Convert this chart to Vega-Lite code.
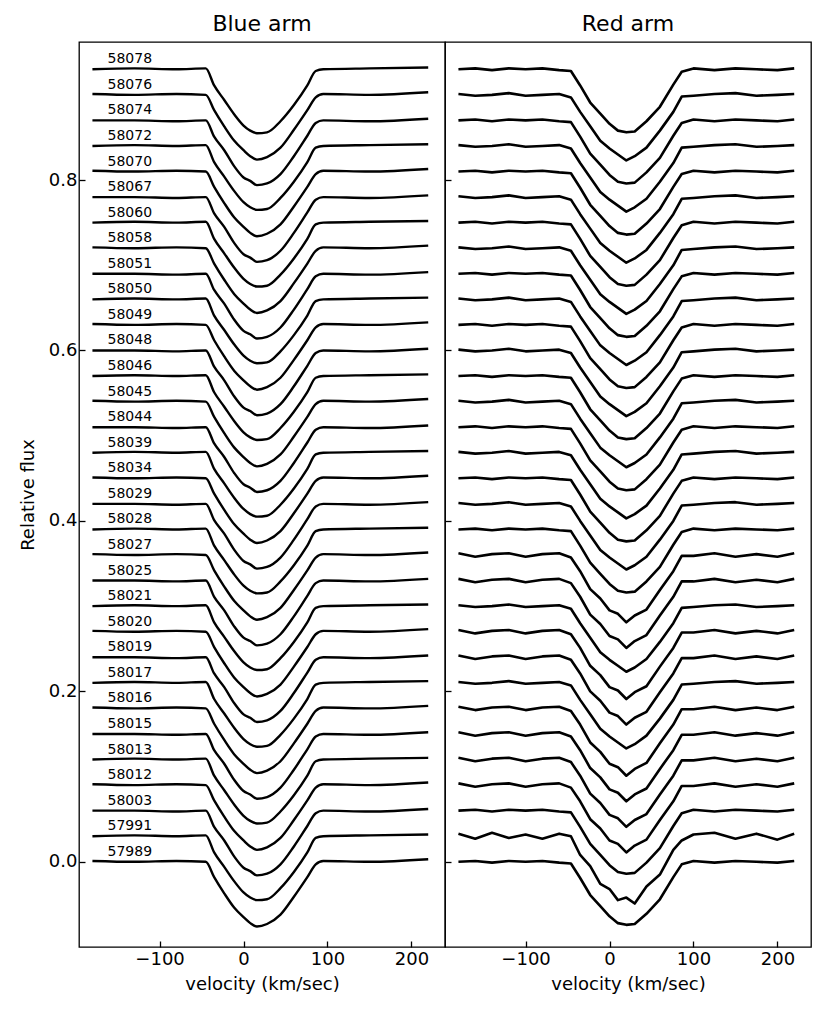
{
"$schema": "https://vega.github.io/schema/vega-lite/v6.json",
"padding": {"left": 18, "top": 12, "right": 5, "bottom": 5},
"bounds": "flush",
"spacing": 0,
"config": {
 "font": "DejaVu Sans",
 "view": {"stroke": "black", "strokeWidth": 1.3},
 "axis": {"grid": false, "domain": false, "tickSize": -6, "tickColor": "black", "tickWidth": 1.3, "labelColor": "black", "labelFontSize": 18, "labelFont": "DejaVu Sans", "titleFont": "DejaVu Sans", "titleFontSize": 18, "titleFontWeight": "normal", "titleColor": "black", "labelPadding": 9},
 "title": {"fontSize": 22, "fontWeight": "normal", "font": "DejaVu Sans", "color": "black", "offset": 6},
 "concat": {"spacing": 0}
},
"datasets": {
"labels": [
{"mjd":"58078","base":0.93},{"mjd":"58076","base":0.90},{"mjd":"58074","base":0.87},{"mjd":"58072","base":0.84},{"mjd":"58070","base":0.81},{"mjd":"58067","base":0.78},{"mjd":"58060","base":0.75},{"mjd":"58058","base":0.72},{"mjd":"58051","base":0.69},{"mjd":"58050","base":0.66},{"mjd":"58049","base":0.63},{"mjd":"58048","base":0.60},{"mjd":"58046","base":0.57},{"mjd":"58045","base":0.54},{"mjd":"58044","base":0.51},{"mjd":"58039","base":0.48},{"mjd":"58034","base":0.45},{"mjd":"58029","base":0.42},{"mjd":"58028","base":0.39},{"mjd":"58027","base":0.36},{"mjd":"58025","base":0.33},{"mjd":"58021","base":0.30},{"mjd":"58020","base":0.27},{"mjd":"58019","base":0.24},{"mjd":"58017","base":0.21},{"mjd":"58016","base":0.18},{"mjd":"58015","base":0.15},{"mjd":"58013","base":0.12},{"mjd":"58012","base":0.09},{"mjd":"58003","base":0.06},{"mjd":"57991","base":0.03},{"mjd":"57989","base":0.00}
],
"blue": [
{"mjd":58078,"v":-180,"flux":0.930},{"mjd":58078,"v":-130,"flux":0.931},{"mjd":58078,"v":-80,"flux":0.930},{"mjd":58078,"v":-45,"flux":0.931},{"mjd":58078,"v":-35,"flux":0.911},{"mjd":58078,"v":-23,"flux":0.894},{"mjd":58078,"v":-11,"flux":0.877},{"mjd":58078,"v":0,"flux":0.864},{"mjd":58078,"v":8,"flux":0.858},{"mjd":58078,"v":16,"flux":0.855},{"mjd":58078,"v":28,"flux":0.856},{"mjd":58078,"v":44,"flux":0.869},{"mjd":58078,"v":60,"flux":0.888},{"mjd":58078,"v":76,"flux":0.911},{"mjd":58078,"v":86,"flux":0.928},{"mjd":58078,"v":95,"flux":0.930},{"mjd":58078,"v":150,"flux":0.931},{"mjd":58078,"v":220,"flux":0.932},
{"mjd":58076,"v":-180,"flux":0.901},{"mjd":58076,"v":-130,"flux":0.900},{"mjd":58076,"v":-80,"flux":0.901},{"mjd":58076,"v":-45,"flux":0.900},{"mjd":58076,"v":-35,"flux":0.882},{"mjd":58076,"v":-23,"flux":0.863},{"mjd":58076,"v":-11,"flux":0.846},{"mjd":58076,"v":0,"flux":0.835},{"mjd":58076,"v":8,"flux":0.828},{"mjd":58076,"v":16,"flux":0.824},{"mjd":58076,"v":28,"flux":0.827},{"mjd":58076,"v":44,"flux":0.838},{"mjd":58076,"v":60,"flux":0.859},{"mjd":58076,"v":76,"flux":0.882},{"mjd":58076,"v":86,"flux":0.897},{"mjd":58076,"v":95,"flux":0.901},{"mjd":58076,"v":150,"flux":0.900},{"mjd":58076,"v":220,"flux":0.903},
{"mjd":58074,"v":-180,"flux":0.870},{"mjd":58074,"v":-130,"flux":0.870},{"mjd":58074,"v":-80,"flux":0.869},{"mjd":58074,"v":-45,"flux":0.870},{"mjd":58074,"v":-35,"flux":0.851},{"mjd":58074,"v":-23,"flux":0.835},{"mjd":58074,"v":-11,"flux":0.816},{"mjd":58074,"v":0,"flux":0.803},{"mjd":58074,"v":8,"flux":0.799},{"mjd":58074,"v":16,"flux":0.794},{"mjd":58074,"v":28,"flux":0.796},{"mjd":58074,"v":44,"flux":0.807},{"mjd":58074,"v":60,"flux":0.828},{"mjd":58074,"v":76,"flux":0.852},{"mjd":58074,"v":86,"flux":0.867},{"mjd":58074,"v":95,"flux":0.870},{"mjd":58074,"v":150,"flux":0.869},{"mjd":58074,"v":220,"flux":0.872},
{"mjd":58072,"v":-180,"flux":0.840},{"mjd":58072,"v":-130,"flux":0.841},{"mjd":58072,"v":-80,"flux":0.840},{"mjd":58072,"v":-45,"flux":0.841},{"mjd":58072,"v":-35,"flux":0.821},{"mjd":58072,"v":-23,"flux":0.804},{"mjd":58072,"v":-11,"flux":0.787},{"mjd":58072,"v":0,"flux":0.774},{"mjd":58072,"v":8,"flux":0.768},{"mjd":58072,"v":16,"flux":0.765},{"mjd":58072,"v":28,"flux":0.766},{"mjd":58072,"v":44,"flux":0.779},{"mjd":58072,"v":60,"flux":0.798},{"mjd":58072,"v":76,"flux":0.821},{"mjd":58072,"v":86,"flux":0.838},{"mjd":58072,"v":95,"flux":0.840},{"mjd":58072,"v":150,"flux":0.841},{"mjd":58072,"v":220,"flux":0.842},
{"mjd":58070,"v":-180,"flux":0.811},{"mjd":58070,"v":-130,"flux":0.810},{"mjd":58070,"v":-80,"flux":0.811},{"mjd":58070,"v":-45,"flux":0.810},{"mjd":58070,"v":-35,"flux":0.792},{"mjd":58070,"v":-23,"flux":0.773},{"mjd":58070,"v":-11,"flux":0.756},{"mjd":58070,"v":0,"flux":0.745},{"mjd":58070,"v":8,"flux":0.738},{"mjd":58070,"v":16,"flux":0.734},{"mjd":58070,"v":28,"flux":0.737},{"mjd":58070,"v":44,"flux":0.748},{"mjd":58070,"v":60,"flux":0.769},{"mjd":58070,"v":76,"flux":0.792},{"mjd":58070,"v":86,"flux":0.807},{"mjd":58070,"v":95,"flux":0.811},{"mjd":58070,"v":150,"flux":0.810},{"mjd":58070,"v":220,"flux":0.813},
{"mjd":58067,"v":-180,"flux":0.780},{"mjd":58067,"v":-130,"flux":0.780},{"mjd":58067,"v":-80,"flux":0.779},{"mjd":58067,"v":-45,"flux":0.780},{"mjd":58067,"v":-35,"flux":0.761},{"mjd":58067,"v":-23,"flux":0.745},{"mjd":58067,"v":-11,"flux":0.726},{"mjd":58067,"v":0,"flux":0.713},{"mjd":58067,"v":8,"flux":0.709},{"mjd":58067,"v":16,"flux":0.704},{"mjd":58067,"v":28,"flux":0.706},{"mjd":58067,"v":44,"flux":0.717},{"mjd":58067,"v":60,"flux":0.738},{"mjd":58067,"v":76,"flux":0.762},{"mjd":58067,"v":86,"flux":0.777},{"mjd":58067,"v":95,"flux":0.780},{"mjd":58067,"v":150,"flux":0.779},{"mjd":58067,"v":220,"flux":0.782},
{"mjd":58060,"v":-180,"flux":0.750},{"mjd":58060,"v":-130,"flux":0.751},{"mjd":58060,"v":-80,"flux":0.750},{"mjd":58060,"v":-45,"flux":0.751},{"mjd":58060,"v":-35,"flux":0.731},{"mjd":58060,"v":-23,"flux":0.714},{"mjd":58060,"v":-11,"flux":0.697},{"mjd":58060,"v":0,"flux":0.684},{"mjd":58060,"v":8,"flux":0.678},{"mjd":58060,"v":16,"flux":0.675},{"mjd":58060,"v":28,"flux":0.676},{"mjd":58060,"v":44,"flux":0.689},{"mjd":58060,"v":60,"flux":0.708},{"mjd":58060,"v":76,"flux":0.731},{"mjd":58060,"v":86,"flux":0.748},{"mjd":58060,"v":95,"flux":0.750},{"mjd":58060,"v":150,"flux":0.751},{"mjd":58060,"v":220,"flux":0.752},
{"mjd":58058,"v":-180,"flux":0.721},{"mjd":58058,"v":-130,"flux":0.720},{"mjd":58058,"v":-80,"flux":0.721},{"mjd":58058,"v":-45,"flux":0.720},{"mjd":58058,"v":-35,"flux":0.702},{"mjd":58058,"v":-23,"flux":0.683},{"mjd":58058,"v":-11,"flux":0.666},{"mjd":58058,"v":0,"flux":0.655},{"mjd":58058,"v":8,"flux":0.648},{"mjd":58058,"v":16,"flux":0.644},{"mjd":58058,"v":28,"flux":0.647},{"mjd":58058,"v":44,"flux":0.658},{"mjd":58058,"v":60,"flux":0.679},{"mjd":58058,"v":76,"flux":0.702},{"mjd":58058,"v":86,"flux":0.717},{"mjd":58058,"v":95,"flux":0.721},{"mjd":58058,"v":150,"flux":0.720},{"mjd":58058,"v":220,"flux":0.723},
{"mjd":58051,"v":-180,"flux":0.690},{"mjd":58051,"v":-130,"flux":0.690},{"mjd":58051,"v":-80,"flux":0.689},{"mjd":58051,"v":-45,"flux":0.690},{"mjd":58051,"v":-35,"flux":0.671},{"mjd":58051,"v":-23,"flux":0.655},{"mjd":58051,"v":-11,"flux":0.636},{"mjd":58051,"v":0,"flux":0.623},{"mjd":58051,"v":8,"flux":0.619},{"mjd":58051,"v":16,"flux":0.614},{"mjd":58051,"v":28,"flux":0.616},{"mjd":58051,"v":44,"flux":0.627},{"mjd":58051,"v":60,"flux":0.648},{"mjd":58051,"v":76,"flux":0.672},{"mjd":58051,"v":86,"flux":0.687},{"mjd":58051,"v":95,"flux":0.690},{"mjd":58051,"v":150,"flux":0.689},{"mjd":58051,"v":220,"flux":0.692},
{"mjd":58050,"v":-180,"flux":0.660},{"mjd":58050,"v":-130,"flux":0.661},{"mjd":58050,"v":-80,"flux":0.660},{"mjd":58050,"v":-45,"flux":0.661},{"mjd":58050,"v":-35,"flux":0.641},{"mjd":58050,"v":-23,"flux":0.624},{"mjd":58050,"v":-11,"flux":0.607},{"mjd":58050,"v":0,"flux":0.594},{"mjd":58050,"v":8,"flux":0.588},{"mjd":58050,"v":16,"flux":0.585},{"mjd":58050,"v":28,"flux":0.586},{"mjd":58050,"v":44,"flux":0.599},{"mjd":58050,"v":60,"flux":0.618},{"mjd":58050,"v":76,"flux":0.641},{"mjd":58050,"v":86,"flux":0.658},{"mjd":58050,"v":95,"flux":0.660},{"mjd":58050,"v":150,"flux":0.661},{"mjd":58050,"v":220,"flux":0.662},
{"mjd":58049,"v":-180,"flux":0.631},{"mjd":58049,"v":-130,"flux":0.630},{"mjd":58049,"v":-80,"flux":0.631},{"mjd":58049,"v":-45,"flux":0.630},{"mjd":58049,"v":-35,"flux":0.612},{"mjd":58049,"v":-23,"flux":0.593},{"mjd":58049,"v":-11,"flux":0.576},{"mjd":58049,"v":0,"flux":0.565},{"mjd":58049,"v":8,"flux":0.558},{"mjd":58049,"v":16,"flux":0.554},{"mjd":58049,"v":28,"flux":0.557},{"mjd":58049,"v":44,"flux":0.568},{"mjd":58049,"v":60,"flux":0.589},{"mjd":58049,"v":76,"flux":0.612},{"mjd":58049,"v":86,"flux":0.627},{"mjd":58049,"v":95,"flux":0.631},{"mjd":58049,"v":150,"flux":0.630},{"mjd":58049,"v":220,"flux":0.633},
{"mjd":58048,"v":-180,"flux":0.600},{"mjd":58048,"v":-130,"flux":0.600},{"mjd":58048,"v":-80,"flux":0.599},{"mjd":58048,"v":-45,"flux":0.600},{"mjd":58048,"v":-35,"flux":0.581},{"mjd":58048,"v":-23,"flux":0.565},{"mjd":58048,"v":-11,"flux":0.546},{"mjd":58048,"v":0,"flux":0.533},{"mjd":58048,"v":8,"flux":0.529},{"mjd":58048,"v":16,"flux":0.524},{"mjd":58048,"v":28,"flux":0.526},{"mjd":58048,"v":44,"flux":0.537},{"mjd":58048,"v":60,"flux":0.558},{"mjd":58048,"v":76,"flux":0.582},{"mjd":58048,"v":86,"flux":0.597},{"mjd":58048,"v":95,"flux":0.600},{"mjd":58048,"v":150,"flux":0.599},{"mjd":58048,"v":220,"flux":0.602},
{"mjd":58046,"v":-180,"flux":0.570},{"mjd":58046,"v":-130,"flux":0.571},{"mjd":58046,"v":-80,"flux":0.570},{"mjd":58046,"v":-45,"flux":0.571},{"mjd":58046,"v":-35,"flux":0.551},{"mjd":58046,"v":-23,"flux":0.534},{"mjd":58046,"v":-11,"flux":0.517},{"mjd":58046,"v":0,"flux":0.504},{"mjd":58046,"v":8,"flux":0.498},{"mjd":58046,"v":16,"flux":0.495},{"mjd":58046,"v":28,"flux":0.496},{"mjd":58046,"v":44,"flux":0.509},{"mjd":58046,"v":60,"flux":0.528},{"mjd":58046,"v":76,"flux":0.551},{"mjd":58046,"v":86,"flux":0.568},{"mjd":58046,"v":95,"flux":0.570},{"mjd":58046,"v":150,"flux":0.571},{"mjd":58046,"v":220,"flux":0.572},
{"mjd":58045,"v":-180,"flux":0.541},{"mjd":58045,"v":-130,"flux":0.540},{"mjd":58045,"v":-80,"flux":0.541},{"mjd":58045,"v":-45,"flux":0.540},{"mjd":58045,"v":-35,"flux":0.522},{"mjd":58045,"v":-23,"flux":0.503},{"mjd":58045,"v":-11,"flux":0.486},{"mjd":58045,"v":0,"flux":0.475},{"mjd":58045,"v":8,"flux":0.468},{"mjd":58045,"v":16,"flux":0.464},{"mjd":58045,"v":28,"flux":0.467},{"mjd":58045,"v":44,"flux":0.478},{"mjd":58045,"v":60,"flux":0.499},{"mjd":58045,"v":76,"flux":0.522},{"mjd":58045,"v":86,"flux":0.537},{"mjd":58045,"v":95,"flux":0.541},{"mjd":58045,"v":150,"flux":0.540},{"mjd":58045,"v":220,"flux":0.543},
{"mjd":58044,"v":-180,"flux":0.510},{"mjd":58044,"v":-130,"flux":0.510},{"mjd":58044,"v":-80,"flux":0.509},{"mjd":58044,"v":-45,"flux":0.510},{"mjd":58044,"v":-35,"flux":0.491},{"mjd":58044,"v":-23,"flux":0.475},{"mjd":58044,"v":-11,"flux":0.456},{"mjd":58044,"v":0,"flux":0.443},{"mjd":58044,"v":8,"flux":0.439},{"mjd":58044,"v":16,"flux":0.434},{"mjd":58044,"v":28,"flux":0.436},{"mjd":58044,"v":44,"flux":0.447},{"mjd":58044,"v":60,"flux":0.468},{"mjd":58044,"v":76,"flux":0.492},{"mjd":58044,"v":86,"flux":0.507},{"mjd":58044,"v":95,"flux":0.510},{"mjd":58044,"v":150,"flux":0.509},{"mjd":58044,"v":220,"flux":0.512},
{"mjd":58039,"v":-180,"flux":0.480},{"mjd":58039,"v":-130,"flux":0.481},{"mjd":58039,"v":-80,"flux":0.480},{"mjd":58039,"v":-45,"flux":0.481},{"mjd":58039,"v":-35,"flux":0.461},{"mjd":58039,"v":-23,"flux":0.444},{"mjd":58039,"v":-11,"flux":0.427},{"mjd":58039,"v":0,"flux":0.414},{"mjd":58039,"v":8,"flux":0.408},{"mjd":58039,"v":16,"flux":0.405},{"mjd":58039,"v":28,"flux":0.406},{"mjd":58039,"v":44,"flux":0.419},{"mjd":58039,"v":60,"flux":0.438},{"mjd":58039,"v":76,"flux":0.461},{"mjd":58039,"v":86,"flux":0.478},{"mjd":58039,"v":95,"flux":0.480},{"mjd":58039,"v":150,"flux":0.481},{"mjd":58039,"v":220,"flux":0.482},
{"mjd":58034,"v":-180,"flux":0.451},{"mjd":58034,"v":-130,"flux":0.450},{"mjd":58034,"v":-80,"flux":0.451},{"mjd":58034,"v":-45,"flux":0.450},{"mjd":58034,"v":-35,"flux":0.432},{"mjd":58034,"v":-23,"flux":0.413},{"mjd":58034,"v":-11,"flux":0.396},{"mjd":58034,"v":0,"flux":0.385},{"mjd":58034,"v":8,"flux":0.378},{"mjd":58034,"v":16,"flux":0.374},{"mjd":58034,"v":28,"flux":0.377},{"mjd":58034,"v":44,"flux":0.388},{"mjd":58034,"v":60,"flux":0.409},{"mjd":58034,"v":76,"flux":0.432},{"mjd":58034,"v":86,"flux":0.447},{"mjd":58034,"v":95,"flux":0.451},{"mjd":58034,"v":150,"flux":0.450},{"mjd":58034,"v":220,"flux":0.453},
{"mjd":58029,"v":-180,"flux":0.420},{"mjd":58029,"v":-130,"flux":0.420},{"mjd":58029,"v":-80,"flux":0.419},{"mjd":58029,"v":-45,"flux":0.420},{"mjd":58029,"v":-35,"flux":0.401},{"mjd":58029,"v":-23,"flux":0.385},{"mjd":58029,"v":-11,"flux":0.366},{"mjd":58029,"v":0,"flux":0.353},{"mjd":58029,"v":8,"flux":0.349},{"mjd":58029,"v":16,"flux":0.344},{"mjd":58029,"v":28,"flux":0.346},{"mjd":58029,"v":44,"flux":0.357},{"mjd":58029,"v":60,"flux":0.378},{"mjd":58029,"v":76,"flux":0.402},{"mjd":58029,"v":86,"flux":0.417},{"mjd":58029,"v":95,"flux":0.420},{"mjd":58029,"v":150,"flux":0.419},{"mjd":58029,"v":220,"flux":0.422},
{"mjd":58028,"v":-180,"flux":0.390},{"mjd":58028,"v":-130,"flux":0.391},{"mjd":58028,"v":-80,"flux":0.390},{"mjd":58028,"v":-45,"flux":0.391},{"mjd":58028,"v":-35,"flux":0.371},{"mjd":58028,"v":-23,"flux":0.354},{"mjd":58028,"v":-11,"flux":0.337},{"mjd":58028,"v":0,"flux":0.324},{"mjd":58028,"v":8,"flux":0.318},{"mjd":58028,"v":16,"flux":0.315},{"mjd":58028,"v":28,"flux":0.316},{"mjd":58028,"v":44,"flux":0.329},{"mjd":58028,"v":60,"flux":0.348},{"mjd":58028,"v":76,"flux":0.371},{"mjd":58028,"v":86,"flux":0.388},{"mjd":58028,"v":95,"flux":0.390},{"mjd":58028,"v":150,"flux":0.391},{"mjd":58028,"v":220,"flux":0.392},
{"mjd":58027,"v":-180,"flux":0.361},{"mjd":58027,"v":-130,"flux":0.360},{"mjd":58027,"v":-80,"flux":0.361},{"mjd":58027,"v":-45,"flux":0.360},{"mjd":58027,"v":-35,"flux":0.342},{"mjd":58027,"v":-23,"flux":0.323},{"mjd":58027,"v":-11,"flux":0.306},{"mjd":58027,"v":0,"flux":0.295},{"mjd":58027,"v":8,"flux":0.288},{"mjd":58027,"v":16,"flux":0.284},{"mjd":58027,"v":28,"flux":0.287},{"mjd":58027,"v":44,"flux":0.298},{"mjd":58027,"v":60,"flux":0.319},{"mjd":58027,"v":76,"flux":0.342},{"mjd":58027,"v":86,"flux":0.357},{"mjd":58027,"v":95,"flux":0.361},{"mjd":58027,"v":150,"flux":0.360},{"mjd":58027,"v":220,"flux":0.363},
{"mjd":58025,"v":-180,"flux":0.330},{"mjd":58025,"v":-130,"flux":0.330},{"mjd":58025,"v":-80,"flux":0.329},{"mjd":58025,"v":-45,"flux":0.330},{"mjd":58025,"v":-35,"flux":0.311},{"mjd":58025,"v":-23,"flux":0.295},{"mjd":58025,"v":-11,"flux":0.276},{"mjd":58025,"v":0,"flux":0.263},{"mjd":58025,"v":8,"flux":0.259},{"mjd":58025,"v":16,"flux":0.254},{"mjd":58025,"v":28,"flux":0.256},{"mjd":58025,"v":44,"flux":0.267},{"mjd":58025,"v":60,"flux":0.288},{"mjd":58025,"v":76,"flux":0.312},{"mjd":58025,"v":86,"flux":0.327},{"mjd":58025,"v":95,"flux":0.330},{"mjd":58025,"v":150,"flux":0.329},{"mjd":58025,"v":220,"flux":0.332},
{"mjd":58021,"v":-180,"flux":0.300},{"mjd":58021,"v":-130,"flux":0.301},{"mjd":58021,"v":-80,"flux":0.300},{"mjd":58021,"v":-45,"flux":0.301},{"mjd":58021,"v":-35,"flux":0.281},{"mjd":58021,"v":-23,"flux":0.264},{"mjd":58021,"v":-11,"flux":0.247},{"mjd":58021,"v":0,"flux":0.234},{"mjd":58021,"v":8,"flux":0.228},{"mjd":58021,"v":16,"flux":0.225},{"mjd":58021,"v":28,"flux":0.226},{"mjd":58021,"v":44,"flux":0.239},{"mjd":58021,"v":60,"flux":0.258},{"mjd":58021,"v":76,"flux":0.281},{"mjd":58021,"v":86,"flux":0.298},{"mjd":58021,"v":95,"flux":0.300},{"mjd":58021,"v":150,"flux":0.301},{"mjd":58021,"v":220,"flux":0.302},
{"mjd":58020,"v":-180,"flux":0.271},{"mjd":58020,"v":-130,"flux":0.270},{"mjd":58020,"v":-80,"flux":0.271},{"mjd":58020,"v":-45,"flux":0.270},{"mjd":58020,"v":-35,"flux":0.252},{"mjd":58020,"v":-23,"flux":0.233},{"mjd":58020,"v":-11,"flux":0.216},{"mjd":58020,"v":0,"flux":0.205},{"mjd":58020,"v":8,"flux":0.198},{"mjd":58020,"v":16,"flux":0.194},{"mjd":58020,"v":28,"flux":0.197},{"mjd":58020,"v":44,"flux":0.208},{"mjd":58020,"v":60,"flux":0.229},{"mjd":58020,"v":76,"flux":0.252},{"mjd":58020,"v":86,"flux":0.267},{"mjd":58020,"v":95,"flux":0.271},{"mjd":58020,"v":150,"flux":0.270},{"mjd":58020,"v":220,"flux":0.273},
{"mjd":58019,"v":-180,"flux":0.240},{"mjd":58019,"v":-130,"flux":0.240},{"mjd":58019,"v":-80,"flux":0.239},{"mjd":58019,"v":-45,"flux":0.240},{"mjd":58019,"v":-35,"flux":0.221},{"mjd":58019,"v":-23,"flux":0.205},{"mjd":58019,"v":-11,"flux":0.186},{"mjd":58019,"v":0,"flux":0.173},{"mjd":58019,"v":8,"flux":0.169},{"mjd":58019,"v":16,"flux":0.164},{"mjd":58019,"v":28,"flux":0.166},{"mjd":58019,"v":44,"flux":0.177},{"mjd":58019,"v":60,"flux":0.198},{"mjd":58019,"v":76,"flux":0.222},{"mjd":58019,"v":86,"flux":0.237},{"mjd":58019,"v":95,"flux":0.240},{"mjd":58019,"v":150,"flux":0.239},{"mjd":58019,"v":220,"flux":0.242},
{"mjd":58017,"v":-180,"flux":0.210},{"mjd":58017,"v":-130,"flux":0.211},{"mjd":58017,"v":-80,"flux":0.210},{"mjd":58017,"v":-45,"flux":0.211},{"mjd":58017,"v":-35,"flux":0.191},{"mjd":58017,"v":-23,"flux":0.174},{"mjd":58017,"v":-11,"flux":0.157},{"mjd":58017,"v":0,"flux":0.144},{"mjd":58017,"v":8,"flux":0.138},{"mjd":58017,"v":16,"flux":0.135},{"mjd":58017,"v":28,"flux":0.136},{"mjd":58017,"v":44,"flux":0.149},{"mjd":58017,"v":60,"flux":0.168},{"mjd":58017,"v":76,"flux":0.191},{"mjd":58017,"v":86,"flux":0.208},{"mjd":58017,"v":95,"flux":0.210},{"mjd":58017,"v":150,"flux":0.211},{"mjd":58017,"v":220,"flux":0.212},
{"mjd":58016,"v":-180,"flux":0.181},{"mjd":58016,"v":-130,"flux":0.180},{"mjd":58016,"v":-80,"flux":0.181},{"mjd":58016,"v":-45,"flux":0.180},{"mjd":58016,"v":-35,"flux":0.162},{"mjd":58016,"v":-23,"flux":0.143},{"mjd":58016,"v":-11,"flux":0.126},{"mjd":58016,"v":0,"flux":0.115},{"mjd":58016,"v":8,"flux":0.108},{"mjd":58016,"v":16,"flux":0.104},{"mjd":58016,"v":28,"flux":0.107},{"mjd":58016,"v":44,"flux":0.118},{"mjd":58016,"v":60,"flux":0.139},{"mjd":58016,"v":76,"flux":0.162},{"mjd":58016,"v":86,"flux":0.177},{"mjd":58016,"v":95,"flux":0.181},{"mjd":58016,"v":150,"flux":0.180},{"mjd":58016,"v":220,"flux":0.183},
{"mjd":58015,"v":-180,"flux":0.150},{"mjd":58015,"v":-130,"flux":0.150},{"mjd":58015,"v":-80,"flux":0.149},{"mjd":58015,"v":-45,"flux":0.150},{"mjd":58015,"v":-35,"flux":0.131},{"mjd":58015,"v":-23,"flux":0.115},{"mjd":58015,"v":-11,"flux":0.096},{"mjd":58015,"v":0,"flux":0.083},{"mjd":58015,"v":8,"flux":0.079},{"mjd":58015,"v":16,"flux":0.074},{"mjd":58015,"v":28,"flux":0.076},{"mjd":58015,"v":44,"flux":0.087},{"mjd":58015,"v":60,"flux":0.108},{"mjd":58015,"v":76,"flux":0.132},{"mjd":58015,"v":86,"flux":0.147},{"mjd":58015,"v":95,"flux":0.150},{"mjd":58015,"v":150,"flux":0.149},{"mjd":58015,"v":220,"flux":0.152},
{"mjd":58013,"v":-180,"flux":0.120},{"mjd":58013,"v":-130,"flux":0.121},{"mjd":58013,"v":-80,"flux":0.120},{"mjd":58013,"v":-45,"flux":0.121},{"mjd":58013,"v":-35,"flux":0.101},{"mjd":58013,"v":-23,"flux":0.084},{"mjd":58013,"v":-11,"flux":0.067},{"mjd":58013,"v":0,"flux":0.054},{"mjd":58013,"v":8,"flux":0.048},{"mjd":58013,"v":16,"flux":0.045},{"mjd":58013,"v":28,"flux":0.046},{"mjd":58013,"v":44,"flux":0.059},{"mjd":58013,"v":60,"flux":0.078},{"mjd":58013,"v":76,"flux":0.101},{"mjd":58013,"v":86,"flux":0.118},{"mjd":58013,"v":95,"flux":0.120},{"mjd":58013,"v":150,"flux":0.121},{"mjd":58013,"v":220,"flux":0.122},
{"mjd":58012,"v":-180,"flux":0.091},{"mjd":58012,"v":-130,"flux":0.090},{"mjd":58012,"v":-80,"flux":0.091},{"mjd":58012,"v":-45,"flux":0.090},{"mjd":58012,"v":-35,"flux":0.072},{"mjd":58012,"v":-23,"flux":0.053},{"mjd":58012,"v":-11,"flux":0.036},{"mjd":58012,"v":0,"flux":0.025},{"mjd":58012,"v":8,"flux":0.018},{"mjd":58012,"v":16,"flux":0.014},{"mjd":58012,"v":28,"flux":0.017},{"mjd":58012,"v":44,"flux":0.028},{"mjd":58012,"v":60,"flux":0.049},{"mjd":58012,"v":76,"flux":0.072},{"mjd":58012,"v":86,"flux":0.087},{"mjd":58012,"v":95,"flux":0.091},{"mjd":58012,"v":150,"flux":0.090},{"mjd":58012,"v":220,"flux":0.093},
{"mjd":58003,"v":-180,"flux":0.060},{"mjd":58003,"v":-130,"flux":0.060},{"mjd":58003,"v":-80,"flux":0.059},{"mjd":58003,"v":-45,"flux":0.060},{"mjd":58003,"v":-35,"flux":0.041},{"mjd":58003,"v":-23,"flux":0.025},{"mjd":58003,"v":-11,"flux":0.006},{"mjd":58003,"v":0,"flux":-0.007},{"mjd":58003,"v":8,"flux":-0.011},{"mjd":58003,"v":16,"flux":-0.016},{"mjd":58003,"v":28,"flux":-0.014},{"mjd":58003,"v":44,"flux":-0.003},{"mjd":58003,"v":60,"flux":0.018},{"mjd":58003,"v":76,"flux":0.042},{"mjd":58003,"v":86,"flux":0.057},{"mjd":58003,"v":95,"flux":0.060},{"mjd":58003,"v":150,"flux":0.059},{"mjd":58003,"v":220,"flux":0.062},
{"mjd":57991,"v":-180,"flux":0.030},{"mjd":57991,"v":-130,"flux":0.031},{"mjd":57991,"v":-80,"flux":0.030},{"mjd":57991,"v":-45,"flux":0.031},{"mjd":57991,"v":-35,"flux":0.011},{"mjd":57991,"v":-23,"flux":-0.006},{"mjd":57991,"v":-11,"flux":-0.023},{"mjd":57991,"v":0,"flux":-0.036},{"mjd":57991,"v":8,"flux":-0.042},{"mjd":57991,"v":16,"flux":-0.045},{"mjd":57991,"v":28,"flux":-0.044},{"mjd":57991,"v":44,"flux":-0.031},{"mjd":57991,"v":60,"flux":-0.012},{"mjd":57991,"v":76,"flux":0.011},{"mjd":57991,"v":86,"flux":0.028},{"mjd":57991,"v":95,"flux":0.030},{"mjd":57991,"v":150,"flux":0.031},{"mjd":57991,"v":220,"flux":0.032},
{"mjd":57989,"v":-180,"flux":0.001},{"mjd":57989,"v":-130,"flux":0.000},{"mjd":57989,"v":-80,"flux":0.001},{"mjd":57989,"v":-45,"flux":0.000},{"mjd":57989,"v":-35,"flux":-0.018},{"mjd":57989,"v":-23,"flux":-0.037},{"mjd":57989,"v":-11,"flux":-0.054},{"mjd":57989,"v":0,"flux":-0.065},{"mjd":57989,"v":8,"flux":-0.072},{"mjd":57989,"v":16,"flux":-0.076},{"mjd":57989,"v":28,"flux":-0.073},{"mjd":57989,"v":44,"flux":-0.062},{"mjd":57989,"v":60,"flux":-0.041},{"mjd":57989,"v":76,"flux":-0.018},{"mjd":57989,"v":86,"flux":-0.003},{"mjd":57989,"v":95,"flux":0.001},{"mjd":57989,"v":150,"flux":0.000},{"mjd":57989,"v":220,"flux":0.003}
],
"red": [
{"mjd":58078,"v":-180,"flux":0.930},{"mjd":58078,"v":-160,"flux":0.931},{"mjd":58078,"v":-140,"flux":0.929},{"mjd":58078,"v":-120,"flux":0.931},{"mjd":58078,"v":-100,"flux":0.930},{"mjd":58078,"v":-80,"flux":0.931},{"mjd":58078,"v":-60,"flux":0.929},{"mjd":58078,"v":-46,"flux":0.928},{"mjd":58078,"v":-35,"flux":0.911},{"mjd":58078,"v":-23,"flux":0.891},{"mjd":58078,"v":-11,"flux":0.878},{"mjd":58078,"v":0,"flux":0.866},{"mjd":58078,"v":10,"flux":0.858},{"mjd":58078,"v":20,"flux":0.856},{"mjd":58078,"v":30,"flux":0.857},{"mjd":58078,"v":44,"flux":0.869},{"mjd":58078,"v":60,"flux":0.886},{"mjd":58078,"v":76,"flux":0.912},{"mjd":58078,"v":86,"flux":0.927},{"mjd":58078,"v":100,"flux":0.931},{"mjd":58078,"v":125,"flux":0.929},{"mjd":58078,"v":150,"flux":0.931},{"mjd":58078,"v":175,"flux":0.930},{"mjd":58078,"v":200,"flux":0.929},{"mjd":58078,"v":220,"flux":0.931},
{"mjd":58076,"v":-180,"flux":0.901},{"mjd":58076,"v":-160,"flux":0.899},{"mjd":58076,"v":-140,"flux":0.900},{"mjd":58076,"v":-120,"flux":0.902},{"mjd":58076,"v":-100,"flux":0.899},{"mjd":58076,"v":-80,"flux":0.900},{"mjd":58076,"v":-60,"flux":0.901},{"mjd":58076,"v":-46,"flux":0.897},{"mjd":58076,"v":-35,"flux":0.880},{"mjd":58076,"v":-23,"flux":0.863},{"mjd":58076,"v":-11,"flux":0.846},{"mjd":58076,"v":0,"flux":0.837},{"mjd":58076,"v":10,"flux":0.830},{"mjd":58076,"v":20,"flux":0.823},{"mjd":58076,"v":30,"flux":0.828},{"mjd":58076,"v":44,"flux":0.838},{"mjd":58076,"v":60,"flux":0.858},{"mjd":58076,"v":76,"flux":0.880},{"mjd":58076,"v":86,"flux":0.898},{"mjd":58076,"v":100,"flux":0.899},{"mjd":58076,"v":125,"flux":0.901},{"mjd":58076,"v":150,"flux":0.902},{"mjd":58076,"v":175,"flux":0.899},{"mjd":58076,"v":200,"flux":0.900},{"mjd":58076,"v":220,"flux":0.901},
{"mjd":58074,"v":-180,"flux":0.870},{"mjd":58074,"v":-160,"flux":0.871},{"mjd":58074,"v":-140,"flux":0.869},{"mjd":58074,"v":-120,"flux":0.871},{"mjd":58074,"v":-100,"flux":0.870},{"mjd":58074,"v":-80,"flux":0.871},{"mjd":58074,"v":-60,"flux":0.869},{"mjd":58074,"v":-46,"flux":0.868},{"mjd":58074,"v":-35,"flux":0.851},{"mjd":58074,"v":-23,"flux":0.831},{"mjd":58074,"v":-11,"flux":0.818},{"mjd":58074,"v":0,"flux":0.806},{"mjd":58074,"v":10,"flux":0.798},{"mjd":58074,"v":20,"flux":0.796},{"mjd":58074,"v":30,"flux":0.797},{"mjd":58074,"v":44,"flux":0.809},{"mjd":58074,"v":60,"flux":0.826},{"mjd":58074,"v":76,"flux":0.852},{"mjd":58074,"v":86,"flux":0.867},{"mjd":58074,"v":100,"flux":0.871},{"mjd":58074,"v":125,"flux":0.869},{"mjd":58074,"v":150,"flux":0.871},{"mjd":58074,"v":175,"flux":0.870},{"mjd":58074,"v":200,"flux":0.869},{"mjd":58074,"v":220,"flux":0.871},
{"mjd":58072,"v":-180,"flux":0.841},{"mjd":58072,"v":-160,"flux":0.839},{"mjd":58072,"v":-140,"flux":0.840},{"mjd":58072,"v":-120,"flux":0.842},{"mjd":58072,"v":-100,"flux":0.839},{"mjd":58072,"v":-80,"flux":0.840},{"mjd":58072,"v":-60,"flux":0.841},{"mjd":58072,"v":-46,"flux":0.837},{"mjd":58072,"v":-35,"flux":0.820},{"mjd":58072,"v":-23,"flux":0.803},{"mjd":58072,"v":-11,"flux":0.786},{"mjd":58072,"v":0,"flux":0.777},{"mjd":58072,"v":10,"flux":0.770},{"mjd":58072,"v":20,"flux":0.763},{"mjd":58072,"v":30,"flux":0.768},{"mjd":58072,"v":44,"flux":0.778},{"mjd":58072,"v":60,"flux":0.798},{"mjd":58072,"v":76,"flux":0.820},{"mjd":58072,"v":86,"flux":0.838},{"mjd":58072,"v":100,"flux":0.839},{"mjd":58072,"v":125,"flux":0.841},{"mjd":58072,"v":150,"flux":0.842},{"mjd":58072,"v":175,"flux":0.839},{"mjd":58072,"v":200,"flux":0.840},{"mjd":58072,"v":220,"flux":0.841},
{"mjd":58070,"v":-180,"flux":0.810},{"mjd":58070,"v":-160,"flux":0.811},{"mjd":58070,"v":-140,"flux":0.809},{"mjd":58070,"v":-120,"flux":0.811},{"mjd":58070,"v":-100,"flux":0.810},{"mjd":58070,"v":-80,"flux":0.811},{"mjd":58070,"v":-60,"flux":0.809},{"mjd":58070,"v":-46,"flux":0.808},{"mjd":58070,"v":-35,"flux":0.791},{"mjd":58070,"v":-23,"flux":0.771},{"mjd":58070,"v":-11,"flux":0.758},{"mjd":58070,"v":0,"flux":0.746},{"mjd":58070,"v":10,"flux":0.738},{"mjd":58070,"v":20,"flux":0.736},{"mjd":58070,"v":30,"flux":0.737},{"mjd":58070,"v":44,"flux":0.749},{"mjd":58070,"v":60,"flux":0.766},{"mjd":58070,"v":76,"flux":0.792},{"mjd":58070,"v":86,"flux":0.807},{"mjd":58070,"v":100,"flux":0.811},{"mjd":58070,"v":125,"flux":0.809},{"mjd":58070,"v":150,"flux":0.811},{"mjd":58070,"v":175,"flux":0.810},{"mjd":58070,"v":200,"flux":0.809},{"mjd":58070,"v":220,"flux":0.811},
{"mjd":58067,"v":-180,"flux":0.781},{"mjd":58067,"v":-160,"flux":0.779},{"mjd":58067,"v":-140,"flux":0.780},{"mjd":58067,"v":-120,"flux":0.782},{"mjd":58067,"v":-100,"flux":0.779},{"mjd":58067,"v":-80,"flux":0.780},{"mjd":58067,"v":-60,"flux":0.781},{"mjd":58067,"v":-46,"flux":0.777},{"mjd":58067,"v":-35,"flux":0.760},{"mjd":58067,"v":-23,"flux":0.743},{"mjd":58067,"v":-11,"flux":0.726},{"mjd":58067,"v":0,"flux":0.717},{"mjd":58067,"v":10,"flux":0.710},{"mjd":58067,"v":20,"flux":0.703},{"mjd":58067,"v":30,"flux":0.708},{"mjd":58067,"v":44,"flux":0.718},{"mjd":58067,"v":60,"flux":0.738},{"mjd":58067,"v":76,"flux":0.760},{"mjd":58067,"v":86,"flux":0.778},{"mjd":58067,"v":100,"flux":0.779},{"mjd":58067,"v":125,"flux":0.781},{"mjd":58067,"v":150,"flux":0.782},{"mjd":58067,"v":175,"flux":0.779},{"mjd":58067,"v":200,"flux":0.780},{"mjd":58067,"v":220,"flux":0.781},
{"mjd":58060,"v":-180,"flux":0.750},{"mjd":58060,"v":-160,"flux":0.751},{"mjd":58060,"v":-140,"flux":0.749},{"mjd":58060,"v":-120,"flux":0.751},{"mjd":58060,"v":-100,"flux":0.750},{"mjd":58060,"v":-80,"flux":0.751},{"mjd":58060,"v":-60,"flux":0.749},{"mjd":58060,"v":-46,"flux":0.748},{"mjd":58060,"v":-35,"flux":0.731},{"mjd":58060,"v":-23,"flux":0.711},{"mjd":58060,"v":-11,"flux":0.698},{"mjd":58060,"v":0,"flux":0.686},{"mjd":58060,"v":10,"flux":0.678},{"mjd":58060,"v":20,"flux":0.676},{"mjd":58060,"v":30,"flux":0.677},{"mjd":58060,"v":44,"flux":0.689},{"mjd":58060,"v":60,"flux":0.706},{"mjd":58060,"v":76,"flux":0.732},{"mjd":58060,"v":86,"flux":0.747},{"mjd":58060,"v":100,"flux":0.751},{"mjd":58060,"v":125,"flux":0.749},{"mjd":58060,"v":150,"flux":0.751},{"mjd":58060,"v":175,"flux":0.750},{"mjd":58060,"v":200,"flux":0.749},{"mjd":58060,"v":220,"flux":0.751},
{"mjd":58058,"v":-180,"flux":0.721},{"mjd":58058,"v":-160,"flux":0.719},{"mjd":58058,"v":-140,"flux":0.720},{"mjd":58058,"v":-120,"flux":0.722},{"mjd":58058,"v":-100,"flux":0.719},{"mjd":58058,"v":-80,"flux":0.720},{"mjd":58058,"v":-60,"flux":0.721},{"mjd":58058,"v":-46,"flux":0.717},{"mjd":58058,"v":-35,"flux":0.700},{"mjd":58058,"v":-23,"flux":0.683},{"mjd":58058,"v":-11,"flux":0.666},{"mjd":58058,"v":0,"flux":0.657},{"mjd":58058,"v":10,"flux":0.650},{"mjd":58058,"v":20,"flux":0.643},{"mjd":58058,"v":30,"flux":0.648},{"mjd":58058,"v":44,"flux":0.658},{"mjd":58058,"v":60,"flux":0.678},{"mjd":58058,"v":76,"flux":0.700},{"mjd":58058,"v":86,"flux":0.718},{"mjd":58058,"v":100,"flux":0.719},{"mjd":58058,"v":125,"flux":0.721},{"mjd":58058,"v":150,"flux":0.722},{"mjd":58058,"v":175,"flux":0.719},{"mjd":58058,"v":200,"flux":0.720},{"mjd":58058,"v":220,"flux":0.721},
{"mjd":58051,"v":-180,"flux":0.690},{"mjd":58051,"v":-160,"flux":0.691},{"mjd":58051,"v":-140,"flux":0.689},{"mjd":58051,"v":-120,"flux":0.691},{"mjd":58051,"v":-100,"flux":0.690},{"mjd":58051,"v":-80,"flux":0.691},{"mjd":58051,"v":-60,"flux":0.689},{"mjd":58051,"v":-46,"flux":0.688},{"mjd":58051,"v":-35,"flux":0.671},{"mjd":58051,"v":-23,"flux":0.651},{"mjd":58051,"v":-11,"flux":0.638},{"mjd":58051,"v":0,"flux":0.626},{"mjd":58051,"v":10,"flux":0.618},{"mjd":58051,"v":20,"flux":0.616},{"mjd":58051,"v":30,"flux":0.617},{"mjd":58051,"v":44,"flux":0.629},{"mjd":58051,"v":60,"flux":0.646},{"mjd":58051,"v":76,"flux":0.672},{"mjd":58051,"v":86,"flux":0.687},{"mjd":58051,"v":100,"flux":0.691},{"mjd":58051,"v":125,"flux":0.689},{"mjd":58051,"v":150,"flux":0.691},{"mjd":58051,"v":175,"flux":0.690},{"mjd":58051,"v":200,"flux":0.689},{"mjd":58051,"v":220,"flux":0.691},
{"mjd":58050,"v":-180,"flux":0.661},{"mjd":58050,"v":-160,"flux":0.659},{"mjd":58050,"v":-140,"flux":0.660},{"mjd":58050,"v":-120,"flux":0.662},{"mjd":58050,"v":-100,"flux":0.659},{"mjd":58050,"v":-80,"flux":0.660},{"mjd":58050,"v":-60,"flux":0.661},{"mjd":58050,"v":-46,"flux":0.657},{"mjd":58050,"v":-35,"flux":0.640},{"mjd":58050,"v":-23,"flux":0.623},{"mjd":58050,"v":-11,"flux":0.606},{"mjd":58050,"v":0,"flux":0.597},{"mjd":58050,"v":10,"flux":0.590},{"mjd":58050,"v":20,"flux":0.583},{"mjd":58050,"v":30,"flux":0.588},{"mjd":58050,"v":44,"flux":0.598},{"mjd":58050,"v":60,"flux":0.618},{"mjd":58050,"v":76,"flux":0.640},{"mjd":58050,"v":86,"flux":0.658},{"mjd":58050,"v":100,"flux":0.659},{"mjd":58050,"v":125,"flux":0.661},{"mjd":58050,"v":150,"flux":0.662},{"mjd":58050,"v":175,"flux":0.659},{"mjd":58050,"v":200,"flux":0.660},{"mjd":58050,"v":220,"flux":0.661},
{"mjd":58049,"v":-180,"flux":0.630},{"mjd":58049,"v":-160,"flux":0.631},{"mjd":58049,"v":-140,"flux":0.629},{"mjd":58049,"v":-120,"flux":0.631},{"mjd":58049,"v":-100,"flux":0.630},{"mjd":58049,"v":-80,"flux":0.631},{"mjd":58049,"v":-60,"flux":0.629},{"mjd":58049,"v":-46,"flux":0.628},{"mjd":58049,"v":-35,"flux":0.611},{"mjd":58049,"v":-23,"flux":0.591},{"mjd":58049,"v":-11,"flux":0.578},{"mjd":58049,"v":0,"flux":0.566},{"mjd":58049,"v":10,"flux":0.558},{"mjd":58049,"v":20,"flux":0.556},{"mjd":58049,"v":30,"flux":0.557},{"mjd":58049,"v":44,"flux":0.569},{"mjd":58049,"v":60,"flux":0.586},{"mjd":58049,"v":76,"flux":0.612},{"mjd":58049,"v":86,"flux":0.627},{"mjd":58049,"v":100,"flux":0.631},{"mjd":58049,"v":125,"flux":0.629},{"mjd":58049,"v":150,"flux":0.631},{"mjd":58049,"v":175,"flux":0.630},{"mjd":58049,"v":200,"flux":0.629},{"mjd":58049,"v":220,"flux":0.631},
{"mjd":58048,"v":-180,"flux":0.601},{"mjd":58048,"v":-160,"flux":0.599},{"mjd":58048,"v":-140,"flux":0.600},{"mjd":58048,"v":-120,"flux":0.602},{"mjd":58048,"v":-100,"flux":0.599},{"mjd":58048,"v":-80,"flux":0.600},{"mjd":58048,"v":-60,"flux":0.601},{"mjd":58048,"v":-46,"flux":0.597},{"mjd":58048,"v":-35,"flux":0.580},{"mjd":58048,"v":-23,"flux":0.563},{"mjd":58048,"v":-11,"flux":0.546},{"mjd":58048,"v":0,"flux":0.537},{"mjd":58048,"v":10,"flux":0.530},{"mjd":58048,"v":20,"flux":0.523},{"mjd":58048,"v":30,"flux":0.528},{"mjd":58048,"v":44,"flux":0.538},{"mjd":58048,"v":60,"flux":0.558},{"mjd":58048,"v":76,"flux":0.580},{"mjd":58048,"v":86,"flux":0.598},{"mjd":58048,"v":100,"flux":0.599},{"mjd":58048,"v":125,"flux":0.601},{"mjd":58048,"v":150,"flux":0.602},{"mjd":58048,"v":175,"flux":0.599},{"mjd":58048,"v":200,"flux":0.600},{"mjd":58048,"v":220,"flux":0.601},
{"mjd":58046,"v":-180,"flux":0.570},{"mjd":58046,"v":-160,"flux":0.571},{"mjd":58046,"v":-140,"flux":0.569},{"mjd":58046,"v":-120,"flux":0.571},{"mjd":58046,"v":-100,"flux":0.570},{"mjd":58046,"v":-80,"flux":0.571},{"mjd":58046,"v":-60,"flux":0.569},{"mjd":58046,"v":-46,"flux":0.568},{"mjd":58046,"v":-35,"flux":0.551},{"mjd":58046,"v":-23,"flux":0.531},{"mjd":58046,"v":-11,"flux":0.518},{"mjd":58046,"v":0,"flux":0.506},{"mjd":58046,"v":10,"flux":0.498},{"mjd":58046,"v":20,"flux":0.496},{"mjd":58046,"v":30,"flux":0.497},{"mjd":58046,"v":44,"flux":0.509},{"mjd":58046,"v":60,"flux":0.526},{"mjd":58046,"v":76,"flux":0.552},{"mjd":58046,"v":86,"flux":0.567},{"mjd":58046,"v":100,"flux":0.571},{"mjd":58046,"v":125,"flux":0.569},{"mjd":58046,"v":150,"flux":0.571},{"mjd":58046,"v":175,"flux":0.570},{"mjd":58046,"v":200,"flux":0.569},{"mjd":58046,"v":220,"flux":0.571},
{"mjd":58045,"v":-180,"flux":0.541},{"mjd":58045,"v":-160,"flux":0.539},{"mjd":58045,"v":-140,"flux":0.540},{"mjd":58045,"v":-120,"flux":0.542},{"mjd":58045,"v":-100,"flux":0.539},{"mjd":58045,"v":-80,"flux":0.540},{"mjd":58045,"v":-60,"flux":0.541},{"mjd":58045,"v":-46,"flux":0.537},{"mjd":58045,"v":-35,"flux":0.520},{"mjd":58045,"v":-23,"flux":0.503},{"mjd":58045,"v":-11,"flux":0.486},{"mjd":58045,"v":0,"flux":0.477},{"mjd":58045,"v":10,"flux":0.470},{"mjd":58045,"v":20,"flux":0.463},{"mjd":58045,"v":30,"flux":0.468},{"mjd":58045,"v":44,"flux":0.478},{"mjd":58045,"v":60,"flux":0.498},{"mjd":58045,"v":76,"flux":0.520},{"mjd":58045,"v":86,"flux":0.538},{"mjd":58045,"v":100,"flux":0.539},{"mjd":58045,"v":125,"flux":0.541},{"mjd":58045,"v":150,"flux":0.542},{"mjd":58045,"v":175,"flux":0.539},{"mjd":58045,"v":200,"flux":0.540},{"mjd":58045,"v":220,"flux":0.541},
{"mjd":58044,"v":-180,"flux":0.510},{"mjd":58044,"v":-160,"flux":0.511},{"mjd":58044,"v":-140,"flux":0.509},{"mjd":58044,"v":-120,"flux":0.511},{"mjd":58044,"v":-100,"flux":0.510},{"mjd":58044,"v":-80,"flux":0.511},{"mjd":58044,"v":-60,"flux":0.509},{"mjd":58044,"v":-46,"flux":0.508},{"mjd":58044,"v":-35,"flux":0.491},{"mjd":58044,"v":-23,"flux":0.471},{"mjd":58044,"v":-11,"flux":0.458},{"mjd":58044,"v":0,"flux":0.446},{"mjd":58044,"v":10,"flux":0.438},{"mjd":58044,"v":20,"flux":0.436},{"mjd":58044,"v":30,"flux":0.437},{"mjd":58044,"v":44,"flux":0.449},{"mjd":58044,"v":60,"flux":0.466},{"mjd":58044,"v":76,"flux":0.492},{"mjd":58044,"v":86,"flux":0.507},{"mjd":58044,"v":100,"flux":0.511},{"mjd":58044,"v":125,"flux":0.509},{"mjd":58044,"v":150,"flux":0.511},{"mjd":58044,"v":175,"flux":0.510},{"mjd":58044,"v":200,"flux":0.509},{"mjd":58044,"v":220,"flux":0.511},
{"mjd":58039,"v":-180,"flux":0.481},{"mjd":58039,"v":-160,"flux":0.479},{"mjd":58039,"v":-140,"flux":0.480},{"mjd":58039,"v":-120,"flux":0.482},{"mjd":58039,"v":-100,"flux":0.479},{"mjd":58039,"v":-80,"flux":0.480},{"mjd":58039,"v":-60,"flux":0.481},{"mjd":58039,"v":-46,"flux":0.477},{"mjd":58039,"v":-35,"flux":0.460},{"mjd":58039,"v":-23,"flux":0.443},{"mjd":58039,"v":-11,"flux":0.426},{"mjd":58039,"v":0,"flux":0.417},{"mjd":58039,"v":10,"flux":0.410},{"mjd":58039,"v":20,"flux":0.403},{"mjd":58039,"v":30,"flux":0.408},{"mjd":58039,"v":44,"flux":0.418},{"mjd":58039,"v":60,"flux":0.438},{"mjd":58039,"v":76,"flux":0.460},{"mjd":58039,"v":86,"flux":0.478},{"mjd":58039,"v":100,"flux":0.479},{"mjd":58039,"v":125,"flux":0.481},{"mjd":58039,"v":150,"flux":0.482},{"mjd":58039,"v":175,"flux":0.479},{"mjd":58039,"v":200,"flux":0.480},{"mjd":58039,"v":220,"flux":0.481},
{"mjd":58034,"v":-180,"flux":0.450},{"mjd":58034,"v":-160,"flux":0.451},{"mjd":58034,"v":-140,"flux":0.449},{"mjd":58034,"v":-120,"flux":0.451},{"mjd":58034,"v":-100,"flux":0.450},{"mjd":58034,"v":-80,"flux":0.451},{"mjd":58034,"v":-60,"flux":0.449},{"mjd":58034,"v":-46,"flux":0.448},{"mjd":58034,"v":-35,"flux":0.431},{"mjd":58034,"v":-23,"flux":0.411},{"mjd":58034,"v":-11,"flux":0.398},{"mjd":58034,"v":0,"flux":0.386},{"mjd":58034,"v":10,"flux":0.378},{"mjd":58034,"v":20,"flux":0.376},{"mjd":58034,"v":30,"flux":0.377},{"mjd":58034,"v":44,"flux":0.389},{"mjd":58034,"v":60,"flux":0.406},{"mjd":58034,"v":76,"flux":0.432},{"mjd":58034,"v":86,"flux":0.447},{"mjd":58034,"v":100,"flux":0.451},{"mjd":58034,"v":125,"flux":0.449},{"mjd":58034,"v":150,"flux":0.451},{"mjd":58034,"v":175,"flux":0.450},{"mjd":58034,"v":200,"flux":0.449},{"mjd":58034,"v":220,"flux":0.451},
{"mjd":58029,"v":-180,"flux":0.421},{"mjd":58029,"v":-160,"flux":0.419},{"mjd":58029,"v":-140,"flux":0.420},{"mjd":58029,"v":-120,"flux":0.422},{"mjd":58029,"v":-100,"flux":0.419},{"mjd":58029,"v":-80,"flux":0.420},{"mjd":58029,"v":-60,"flux":0.421},{"mjd":58029,"v":-46,"flux":0.417},{"mjd":58029,"v":-35,"flux":0.400},{"mjd":58029,"v":-23,"flux":0.383},{"mjd":58029,"v":-11,"flux":0.366},{"mjd":58029,"v":0,"flux":0.357},{"mjd":58029,"v":10,"flux":0.350},{"mjd":58029,"v":20,"flux":0.343},{"mjd":58029,"v":30,"flux":0.348},{"mjd":58029,"v":44,"flux":0.358},{"mjd":58029,"v":60,"flux":0.378},{"mjd":58029,"v":76,"flux":0.400},{"mjd":58029,"v":86,"flux":0.418},{"mjd":58029,"v":100,"flux":0.419},{"mjd":58029,"v":125,"flux":0.421},{"mjd":58029,"v":150,"flux":0.422},{"mjd":58029,"v":175,"flux":0.419},{"mjd":58029,"v":200,"flux":0.420},{"mjd":58029,"v":220,"flux":0.421},
{"mjd":58028,"v":-180,"flux":0.390},{"mjd":58028,"v":-160,"flux":0.391},{"mjd":58028,"v":-140,"flux":0.389},{"mjd":58028,"v":-120,"flux":0.391},{"mjd":58028,"v":-100,"flux":0.390},{"mjd":58028,"v":-80,"flux":0.391},{"mjd":58028,"v":-60,"flux":0.389},{"mjd":58028,"v":-46,"flux":0.388},{"mjd":58028,"v":-35,"flux":0.371},{"mjd":58028,"v":-23,"flux":0.351},{"mjd":58028,"v":-11,"flux":0.338},{"mjd":58028,"v":0,"flux":0.326},{"mjd":58028,"v":10,"flux":0.318},{"mjd":58028,"v":20,"flux":0.316},{"mjd":58028,"v":30,"flux":0.317},{"mjd":58028,"v":44,"flux":0.329},{"mjd":58028,"v":60,"flux":0.346},{"mjd":58028,"v":76,"flux":0.372},{"mjd":58028,"v":86,"flux":0.387},{"mjd":58028,"v":100,"flux":0.391},{"mjd":58028,"v":125,"flux":0.389},{"mjd":58028,"v":150,"flux":0.391},{"mjd":58028,"v":175,"flux":0.390},{"mjd":58028,"v":200,"flux":0.389},{"mjd":58028,"v":220,"flux":0.391},
{"mjd":58027,"v":-180,"flux":0.362},{"mjd":58027,"v":-160,"flux":0.358},{"mjd":58027,"v":-140,"flux":0.361},{"mjd":58027,"v":-120,"flux":0.362},{"mjd":58027,"v":-100,"flux":0.358},{"mjd":58027,"v":-80,"flux":0.361},{"mjd":58027,"v":-60,"flux":0.362},{"mjd":58027,"v":-46,"flux":0.357},{"mjd":58027,"v":-35,"flux":0.341},{"mjd":58027,"v":-23,"flux":0.320},{"mjd":58027,"v":-11,"flux":0.309},{"mjd":58027,"v":0,"flux":0.295},{"mjd":58027,"v":10,"flux":0.291},{"mjd":58027,"v":20,"flux":0.281},{"mjd":58027,"v":30,"flux":0.289},{"mjd":58027,"v":44,"flux":0.296},{"mjd":58027,"v":60,"flux":0.319},{"mjd":58027,"v":76,"flux":0.341},{"mjd":58027,"v":86,"flux":0.359},{"mjd":58027,"v":100,"flux":0.359},{"mjd":58027,"v":125,"flux":0.362},{"mjd":58027,"v":150,"flux":0.358},{"mjd":58027,"v":175,"flux":0.361},{"mjd":58027,"v":200,"flux":0.358},{"mjd":58027,"v":220,"flux":0.362},
{"mjd":58025,"v":-180,"flux":0.332},{"mjd":58025,"v":-160,"flux":0.328},{"mjd":58025,"v":-140,"flux":0.331},{"mjd":58025,"v":-120,"flux":0.332},{"mjd":58025,"v":-100,"flux":0.328},{"mjd":58025,"v":-80,"flux":0.331},{"mjd":58025,"v":-60,"flux":0.332},{"mjd":58025,"v":-46,"flux":0.327},{"mjd":58025,"v":-35,"flux":0.311},{"mjd":58025,"v":-23,"flux":0.290},{"mjd":58025,"v":-11,"flux":0.279},{"mjd":58025,"v":0,"flux":0.265},{"mjd":58025,"v":10,"flux":0.261},{"mjd":58025,"v":20,"flux":0.251},{"mjd":58025,"v":30,"flux":0.259},{"mjd":58025,"v":44,"flux":0.266},{"mjd":58025,"v":60,"flux":0.289},{"mjd":58025,"v":76,"flux":0.311},{"mjd":58025,"v":86,"flux":0.329},{"mjd":58025,"v":100,"flux":0.329},{"mjd":58025,"v":125,"flux":0.332},{"mjd":58025,"v":150,"flux":0.328},{"mjd":58025,"v":175,"flux":0.331},{"mjd":58025,"v":200,"flux":0.328},{"mjd":58025,"v":220,"flux":0.332},
{"mjd":58021,"v":-180,"flux":0.301},{"mjd":58021,"v":-160,"flux":0.299},{"mjd":58021,"v":-140,"flux":0.300},{"mjd":58021,"v":-120,"flux":0.302},{"mjd":58021,"v":-100,"flux":0.299},{"mjd":58021,"v":-80,"flux":0.300},{"mjd":58021,"v":-60,"flux":0.301},{"mjd":58021,"v":-46,"flux":0.297},{"mjd":58021,"v":-35,"flux":0.280},{"mjd":58021,"v":-23,"flux":0.263},{"mjd":58021,"v":-11,"flux":0.246},{"mjd":58021,"v":0,"flux":0.237},{"mjd":58021,"v":10,"flux":0.230},{"mjd":58021,"v":20,"flux":0.223},{"mjd":58021,"v":30,"flux":0.228},{"mjd":58021,"v":44,"flux":0.238},{"mjd":58021,"v":60,"flux":0.258},{"mjd":58021,"v":76,"flux":0.280},{"mjd":58021,"v":86,"flux":0.298},{"mjd":58021,"v":100,"flux":0.299},{"mjd":58021,"v":125,"flux":0.301},{"mjd":58021,"v":150,"flux":0.302},{"mjd":58021,"v":175,"flux":0.299},{"mjd":58021,"v":200,"flux":0.300},{"mjd":58021,"v":220,"flux":0.301},
{"mjd":58020,"v":-180,"flux":0.272},{"mjd":58020,"v":-160,"flux":0.268},{"mjd":58020,"v":-140,"flux":0.271},{"mjd":58020,"v":-120,"flux":0.272},{"mjd":58020,"v":-100,"flux":0.268},{"mjd":58020,"v":-80,"flux":0.271},{"mjd":58020,"v":-60,"flux":0.272},{"mjd":58020,"v":-46,"flux":0.267},{"mjd":58020,"v":-35,"flux":0.251},{"mjd":58020,"v":-23,"flux":0.230},{"mjd":58020,"v":-11,"flux":0.219},{"mjd":58020,"v":0,"flux":0.205},{"mjd":58020,"v":10,"flux":0.201},{"mjd":58020,"v":20,"flux":0.191},{"mjd":58020,"v":30,"flux":0.199},{"mjd":58020,"v":44,"flux":0.206},{"mjd":58020,"v":60,"flux":0.229},{"mjd":58020,"v":76,"flux":0.251},{"mjd":58020,"v":86,"flux":0.269},{"mjd":58020,"v":100,"flux":0.269},{"mjd":58020,"v":125,"flux":0.272},{"mjd":58020,"v":150,"flux":0.268},{"mjd":58020,"v":175,"flux":0.271},{"mjd":58020,"v":200,"flux":0.268},{"mjd":58020,"v":220,"flux":0.272},
{"mjd":58019,"v":-180,"flux":0.242},{"mjd":58019,"v":-160,"flux":0.238},{"mjd":58019,"v":-140,"flux":0.241},{"mjd":58019,"v":-120,"flux":0.242},{"mjd":58019,"v":-100,"flux":0.238},{"mjd":58019,"v":-80,"flux":0.241},{"mjd":58019,"v":-60,"flux":0.242},{"mjd":58019,"v":-46,"flux":0.237},{"mjd":58019,"v":-35,"flux":0.221},{"mjd":58019,"v":-23,"flux":0.200},{"mjd":58019,"v":-11,"flux":0.189},{"mjd":58019,"v":0,"flux":0.175},{"mjd":58019,"v":10,"flux":0.171},{"mjd":58019,"v":20,"flux":0.161},{"mjd":58019,"v":30,"flux":0.169},{"mjd":58019,"v":44,"flux":0.176},{"mjd":58019,"v":60,"flux":0.199},{"mjd":58019,"v":76,"flux":0.221},{"mjd":58019,"v":86,"flux":0.239},{"mjd":58019,"v":100,"flux":0.239},{"mjd":58019,"v":125,"flux":0.242},{"mjd":58019,"v":150,"flux":0.238},{"mjd":58019,"v":175,"flux":0.241},{"mjd":58019,"v":200,"flux":0.238},{"mjd":58019,"v":220,"flux":0.242},
{"mjd":58017,"v":-180,"flux":0.211},{"mjd":58017,"v":-160,"flux":0.209},{"mjd":58017,"v":-140,"flux":0.210},{"mjd":58017,"v":-120,"flux":0.212},{"mjd":58017,"v":-100,"flux":0.209},{"mjd":58017,"v":-80,"flux":0.210},{"mjd":58017,"v":-60,"flux":0.211},{"mjd":58017,"v":-46,"flux":0.207},{"mjd":58017,"v":-35,"flux":0.190},{"mjd":58017,"v":-23,"flux":0.173},{"mjd":58017,"v":-11,"flux":0.156},{"mjd":58017,"v":0,"flux":0.147},{"mjd":58017,"v":10,"flux":0.140},{"mjd":58017,"v":20,"flux":0.133},{"mjd":58017,"v":30,"flux":0.138},{"mjd":58017,"v":44,"flux":0.148},{"mjd":58017,"v":60,"flux":0.168},{"mjd":58017,"v":76,"flux":0.190},{"mjd":58017,"v":86,"flux":0.208},{"mjd":58017,"v":100,"flux":0.209},{"mjd":58017,"v":125,"flux":0.211},{"mjd":58017,"v":150,"flux":0.212},{"mjd":58017,"v":175,"flux":0.209},{"mjd":58017,"v":200,"flux":0.210},{"mjd":58017,"v":220,"flux":0.211},
{"mjd":58016,"v":-180,"flux":0.182},{"mjd":58016,"v":-160,"flux":0.178},{"mjd":58016,"v":-140,"flux":0.181},{"mjd":58016,"v":-120,"flux":0.182},{"mjd":58016,"v":-100,"flux":0.178},{"mjd":58016,"v":-80,"flux":0.181},{"mjd":58016,"v":-60,"flux":0.182},{"mjd":58016,"v":-46,"flux":0.177},{"mjd":58016,"v":-35,"flux":0.161},{"mjd":58016,"v":-23,"flux":0.140},{"mjd":58016,"v":-11,"flux":0.129},{"mjd":58016,"v":0,"flux":0.115},{"mjd":58016,"v":10,"flux":0.111},{"mjd":58016,"v":20,"flux":0.101},{"mjd":58016,"v":30,"flux":0.109},{"mjd":58016,"v":44,"flux":0.116},{"mjd":58016,"v":60,"flux":0.139},{"mjd":58016,"v":76,"flux":0.161},{"mjd":58016,"v":86,"flux":0.179},{"mjd":58016,"v":100,"flux":0.179},{"mjd":58016,"v":125,"flux":0.182},{"mjd":58016,"v":150,"flux":0.178},{"mjd":58016,"v":175,"flux":0.181},{"mjd":58016,"v":200,"flux":0.178},{"mjd":58016,"v":220,"flux":0.182},
{"mjd":58015,"v":-180,"flux":0.152},{"mjd":58015,"v":-160,"flux":0.148},{"mjd":58015,"v":-140,"flux":0.151},{"mjd":58015,"v":-120,"flux":0.152},{"mjd":58015,"v":-100,"flux":0.148},{"mjd":58015,"v":-80,"flux":0.151},{"mjd":58015,"v":-60,"flux":0.152},{"mjd":58015,"v":-46,"flux":0.147},{"mjd":58015,"v":-35,"flux":0.131},{"mjd":58015,"v":-23,"flux":0.110},{"mjd":58015,"v":-11,"flux":0.099},{"mjd":58015,"v":0,"flux":0.085},{"mjd":58015,"v":10,"flux":0.081},{"mjd":58015,"v":20,"flux":0.071},{"mjd":58015,"v":30,"flux":0.079},{"mjd":58015,"v":44,"flux":0.086},{"mjd":58015,"v":60,"flux":0.109},{"mjd":58015,"v":76,"flux":0.131},{"mjd":58015,"v":86,"flux":0.149},{"mjd":58015,"v":100,"flux":0.149},{"mjd":58015,"v":125,"flux":0.152},{"mjd":58015,"v":150,"flux":0.148},{"mjd":58015,"v":175,"flux":0.151},{"mjd":58015,"v":200,"flux":0.148},{"mjd":58015,"v":220,"flux":0.152},
{"mjd":58013,"v":-180,"flux":0.122},{"mjd":58013,"v":-160,"flux":0.118},{"mjd":58013,"v":-140,"flux":0.121},{"mjd":58013,"v":-120,"flux":0.122},{"mjd":58013,"v":-100,"flux":0.118},{"mjd":58013,"v":-80,"flux":0.121},{"mjd":58013,"v":-60,"flux":0.122},{"mjd":58013,"v":-46,"flux":0.117},{"mjd":58013,"v":-35,"flux":0.101},{"mjd":58013,"v":-23,"flux":0.080},{"mjd":58013,"v":-11,"flux":0.069},{"mjd":58013,"v":0,"flux":0.055},{"mjd":58013,"v":10,"flux":0.051},{"mjd":58013,"v":20,"flux":0.041},{"mjd":58013,"v":30,"flux":0.049},{"mjd":58013,"v":44,"flux":0.056},{"mjd":58013,"v":60,"flux":0.079},{"mjd":58013,"v":76,"flux":0.101},{"mjd":58013,"v":86,"flux":0.119},{"mjd":58013,"v":100,"flux":0.119},{"mjd":58013,"v":125,"flux":0.122},{"mjd":58013,"v":150,"flux":0.118},{"mjd":58013,"v":175,"flux":0.121},{"mjd":58013,"v":200,"flux":0.118},{"mjd":58013,"v":220,"flux":0.122},
{"mjd":58012,"v":-180,"flux":0.092},{"mjd":58012,"v":-160,"flux":0.088},{"mjd":58012,"v":-140,"flux":0.091},{"mjd":58012,"v":-120,"flux":0.092},{"mjd":58012,"v":-100,"flux":0.088},{"mjd":58012,"v":-80,"flux":0.091},{"mjd":58012,"v":-60,"flux":0.092},{"mjd":58012,"v":-46,"flux":0.087},{"mjd":58012,"v":-35,"flux":0.071},{"mjd":58012,"v":-23,"flux":0.050},{"mjd":58012,"v":-11,"flux":0.039},{"mjd":58012,"v":0,"flux":0.025},{"mjd":58012,"v":10,"flux":0.021},{"mjd":58012,"v":20,"flux":0.011},{"mjd":58012,"v":30,"flux":0.019},{"mjd":58012,"v":44,"flux":0.026},{"mjd":58012,"v":60,"flux":0.049},{"mjd":58012,"v":76,"flux":0.071},{"mjd":58012,"v":86,"flux":0.089},{"mjd":58012,"v":100,"flux":0.089},{"mjd":58012,"v":125,"flux":0.092},{"mjd":58012,"v":150,"flux":0.088},{"mjd":58012,"v":175,"flux":0.091},{"mjd":58012,"v":200,"flux":0.088},{"mjd":58012,"v":220,"flux":0.092},
{"mjd":58003,"v":-180,"flux":0.060},{"mjd":58003,"v":-160,"flux":0.061},{"mjd":58003,"v":-140,"flux":0.059},{"mjd":58003,"v":-120,"flux":0.061},{"mjd":58003,"v":-100,"flux":0.060},{"mjd":58003,"v":-80,"flux":0.061},{"mjd":58003,"v":-60,"flux":0.059},{"mjd":58003,"v":-46,"flux":0.058},{"mjd":58003,"v":-35,"flux":0.041},{"mjd":58003,"v":-23,"flux":0.021},{"mjd":58003,"v":-11,"flux":0.008},{"mjd":58003,"v":0,"flux":-0.004},{"mjd":58003,"v":10,"flux":-0.012},{"mjd":58003,"v":20,"flux":-0.014},{"mjd":58003,"v":30,"flux":-0.013},{"mjd":58003,"v":44,"flux":-0.001},{"mjd":58003,"v":60,"flux":0.016},{"mjd":58003,"v":76,"flux":0.042},{"mjd":58003,"v":86,"flux":0.057},{"mjd":58003,"v":100,"flux":0.061},{"mjd":58003,"v":125,"flux":0.059},{"mjd":58003,"v":150,"flux":0.061},{"mjd":58003,"v":175,"flux":0.060},{"mjd":58003,"v":200,"flux":0.059},{"mjd":58003,"v":220,"flux":0.061},
{"mjd":57991,"v":-180,"flux":0.033},{"mjd":57991,"v":-160,"flux":0.027},{"mjd":57991,"v":-140,"flux":0.034},{"mjd":57991,"v":-120,"flux":0.028},{"mjd":57991,"v":-100,"flux":0.032},{"mjd":57991,"v":-80,"flux":0.027},{"mjd":57991,"v":-60,"flux":0.033},{"mjd":57991,"v":-46,"flux":0.030},{"mjd":57991,"v":-35,"flux":0.008},{"mjd":57991,"v":-23,"flux":-0.005},{"mjd":57991,"v":-11,"flux":-0.026},{"mjd":57991,"v":0,"flux":-0.032},{"mjd":57991,"v":10,"flux":-0.045},{"mjd":57991,"v":20,"flux":-0.042},{"mjd":57991,"v":30,"flux":-0.049},{"mjd":57991,"v":44,"flux":-0.029},{"mjd":57991,"v":60,"flux":-0.015},{"mjd":57991,"v":76,"flux":0.014},{"mjd":57991,"v":86,"flux":0.025},{"mjd":57991,"v":100,"flux":0.032},{"mjd":57991,"v":125,"flux":0.034},{"mjd":57991,"v":150,"flux":0.027},{"mjd":57991,"v":175,"flux":0.033},{"mjd":57991,"v":200,"flux":0.026},{"mjd":57991,"v":220,"flux":0.033},
{"mjd":57989,"v":-180,"flux":0.000},{"mjd":57989,"v":-160,"flux":0.001},{"mjd":57989,"v":-140,"flux":-0.001},{"mjd":57989,"v":-120,"flux":0.001},{"mjd":57989,"v":-100,"flux":0.000},{"mjd":57989,"v":-80,"flux":0.001},{"mjd":57989,"v":-60,"flux":-0.001},{"mjd":57989,"v":-46,"flux":-0.002},{"mjd":57989,"v":-35,"flux":-0.019},{"mjd":57989,"v":-23,"flux":-0.039},{"mjd":57989,"v":-11,"flux":-0.052},{"mjd":57989,"v":0,"flux":-0.064},{"mjd":57989,"v":10,"flux":-0.072},{"mjd":57989,"v":20,"flux":-0.074},{"mjd":57989,"v":30,"flux":-0.073},{"mjd":57989,"v":44,"flux":-0.061},{"mjd":57989,"v":60,"flux":-0.044},{"mjd":57989,"v":76,"flux":-0.018},{"mjd":57989,"v":86,"flux":-0.003},{"mjd":57989,"v":100,"flux":0.001},{"mjd":57989,"v":125,"flux":-0.001},{"mjd":57989,"v":150,"flux":0.001},{"mjd":57989,"v":175,"flux":0.000},{"mjd":57989,"v":200,"flux":-0.001},{"mjd":57989,"v":220,"flux":0.001}
]
},
"hconcat": [
 {
  "width": 366, "height": 905,
  "title": "Blue arm",
  "layer": [
   {"data": {"name": "blue"},
    "mark": {"type": "line", "color": "black", "strokeWidth": 2.4, "strokeJoin": "round", "interpolate": "monotone"},
    "encoding": {
     "x": {"field": "v", "type": "quantitative", "scale": {"domain": [-196, 240], "nice": false, "zero": false}, "axis": {"title": "velocity (km/sec)", "values": [-100, 0, 100, 200], "titlePadding": 7}},
     "y": {"field": "flux", "type": "quantitative", "title": "Relative flux", "scale": {"domain": [-0.1, 0.962], "nice": false, "zero": false}, "axis": {"values": [0, 0.2, 0.4, 0.6, 0.8], "format": ".1f", "labelPadding": 8, "titlePadding": 11}},
     "detail": {"field": "mjd", "type": "nominal"}
    }},
   {"data": {"name": "labels"},
    "mark": {"type": "text", "align": "left", "baseline": "alphabetic", "dy": -6, "fontSize": 14, "color": "black"},
    "encoding": {
     "x": {"datum": -162},
     "y": {"field": "base", "type": "quantitative", "title": "Relative flux"},
     "text": {"field": "mjd", "type": "nominal"}
    }}
  ]
 },
 {
  "width": 366, "height": 905,
  "title": "Red arm",
  "data": {"name": "red"},
  "mark": {"type": "line", "color": "black", "strokeWidth": 2.6, "strokeJoin": "round"},
  "encoding": {
   "x": {"field": "v", "type": "quantitative", "scale": {"domain": [-196, 240], "nice": false, "zero": false}, "axis": {"title": "velocity (km/sec)", "values": [-100, 0, 100, 200], "titlePadding": 7}},
   "y": {"field": "flux", "type": "quantitative", "scale": {"domain": [-0.1, 0.962], "nice": false, "zero": false}, "axis": {"values": [0, 0.2, 0.4, 0.6, 0.8], "labels": false, "title": null}},
   "detail": {"field": "mjd", "type": "nominal"}
  }
 }
]
}
